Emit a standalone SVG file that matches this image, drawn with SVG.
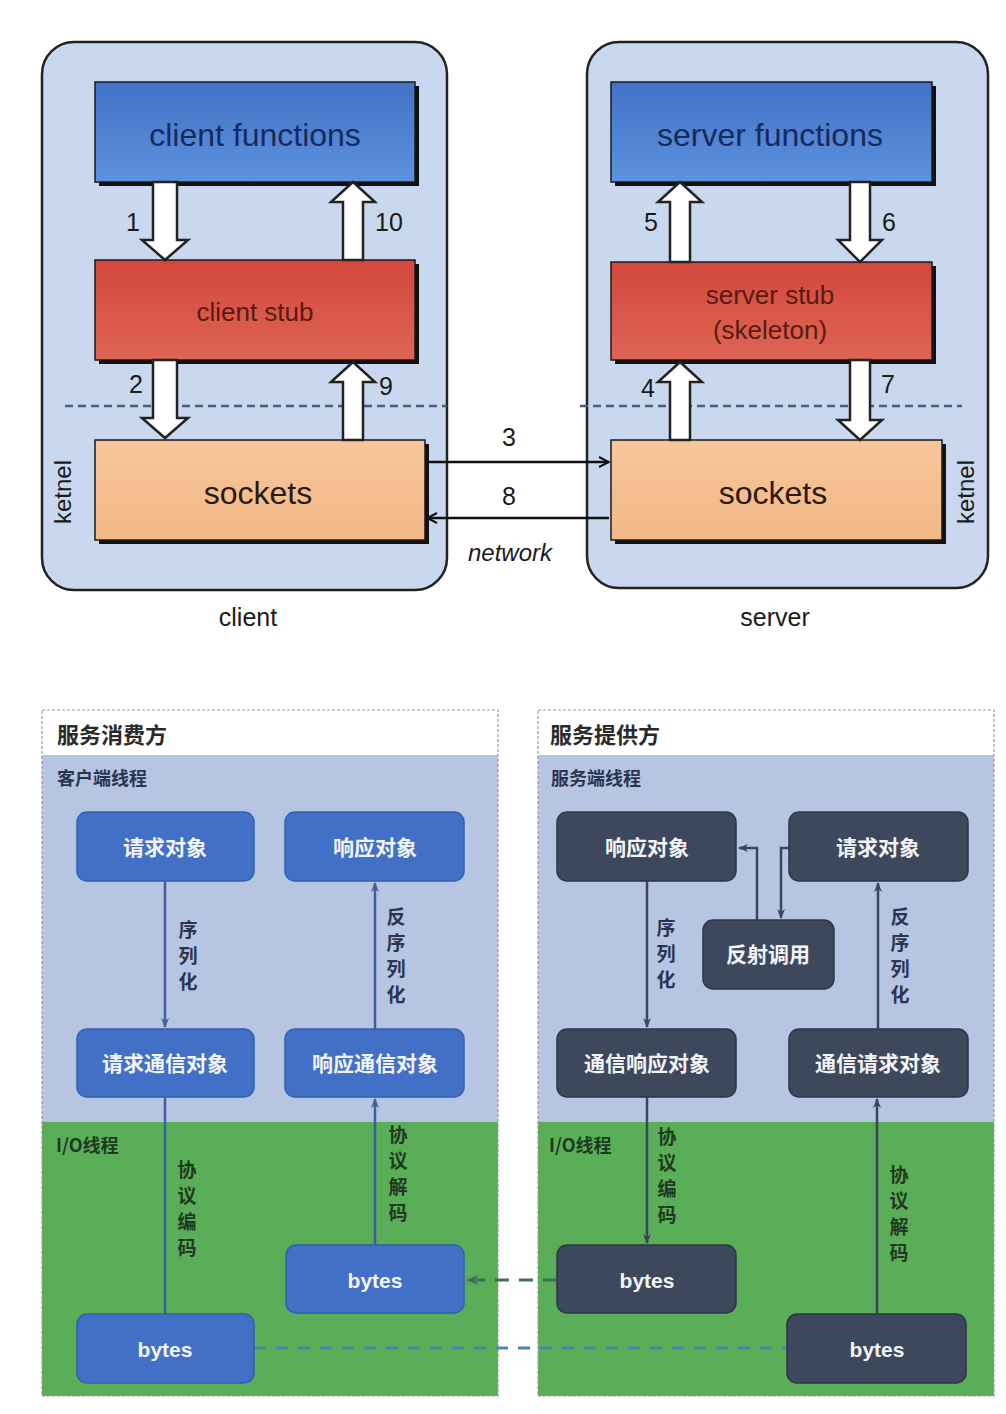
<svg xmlns="http://www.w3.org/2000/svg" width="1006" height="1414" viewBox="0 0 1006 1414">
<defs>
<linearGradient id="gBlue" x1="0" y1="0" x2="0" y2="1"><stop offset="0" stop-color="#4272c6"/><stop offset="1" stop-color="#5d92de"/></linearGradient>
<linearGradient id="gRed" x1="0" y1="0" x2="0" y2="1"><stop offset="0" stop-color="#d2473b"/><stop offset="1" stop-color="#de6555"/></linearGradient>
<linearGradient id="gPeach" x1="0" y1="0" x2="0" y2="1"><stop offset="0" stop-color="#f7c69a"/><stop offset="1" stop-color="#f2b886"/></linearGradient>
<marker id="chev" viewBox="0 0 12 12" refX="11" refY="6" markerWidth="12" markerHeight="12" markerUnits="userSpaceOnUse" orient="auto"><path d="M1,1 L11,6 L1,11" fill="none" stroke="#111" stroke-width="2"/></marker>
<marker id="triB" viewBox="0 0 10 10" refX="9" refY="5" markerWidth="10" markerHeight="10" markerUnits="userSpaceOnUse" orient="auto"><path d="M0,1 L10,5 L0,9 L3,5 Z" fill="#3f5f9f"/></marker>
<marker id="triD" viewBox="0 0 10 10" refX="9" refY="5" markerWidth="10" markerHeight="10" markerUnits="userSpaceOnUse" orient="auto"><path d="M0,1 L10,5 L0,9 L3,5 Z" fill="#3a4660"/></marker>
<marker id="triG" viewBox="0 0 12 12" refX="11" refY="6" markerWidth="12" markerHeight="12" markerUnits="userSpaceOnUse" orient="auto"><path d="M0,1 L12,6 L0,11 L3,6 Z" fill="#3f6f5a"/></marker>
</defs>
<style>
.panel{fill:#c9d8ee;stroke:#222;stroke-width:2.5}
.shadow{fill:#111}
.box{stroke:#1a1a1a;stroke-width:1.5}
.harrow{fill:#fff;stroke:#222;stroke-width:2.5;stroke-linejoin:miter}
.en{font-family:"Liberation Sans",Arial,sans-serif}
.num{font-family:"Liberation Sans",Arial,sans-serif;font-size:25px;fill:#1a1a1a}
.kdash{stroke:#4a5a7a;stroke-width:2.5;stroke-dasharray:8,5;fill:none}
.cn{font-family:"Noto Sans CJK SC",sans-serif}
.hdr{font-size:22px;font-weight:bold;fill:#2a2a2a}
.sub{font-size:18px;font-weight:bold;fill:#2a3450}
.nodeB{fill:#4270c6;stroke:#3360b0;stroke-width:1.5}
.nodeD{fill:#3e485c;stroke:#2e3648;stroke-width:1.5}
.nt{font-size:21px;font-weight:bold;fill:#f2f4f8;text-anchor:middle}
.lblB{font-size:19px;font-weight:bold;fill:#2a3450;text-anchor:middle}
.lblG{font-size:19px;font-weight:bold;fill:#1e3a1e;text-anchor:middle}
.lineB{stroke:#3f5f9f;stroke-width:2.5;fill:none}
.lineD{stroke:#3a4660;stroke-width:2.5;fill:none}
</style>

<!-- ===== Top: RPC diagram ===== -->
<g id="client-panel">
<rect class="panel" x="42" y="42" width="405" height="548" rx="32"/>
<line class="kdash" x1="65" y1="406" x2="447" y2="406"/>
<text class="en" x="248" y="626" font-size="25" fill="#1a1a1a" text-anchor="middle">client</text>
<text class="en" x="0" y="0" font-size="24" fill="#1a1a1a" text-anchor="middle" transform="translate(71,492) rotate(-90)">ketnel</text>
</g>
<g id="server-panel">
<rect class="panel" x="587" y="42" width="401" height="546" rx="32"/>
<line class="kdash" x1="580" y1="406" x2="962" y2="406"/>
<text class="en" x="775" y="626" font-size="25" fill="#1a1a1a" text-anchor="middle">server</text>
<text class="en" x="0" y="0" font-size="24" fill="#1a1a1a" text-anchor="middle" transform="translate(974,492) rotate(-90)">ketnel</text>
</g>

<g id="client-functions">
<rect class="shadow" x="99" y="86" width="320" height="100"/>
<rect class="box" x="95" y="82" width="320" height="100" fill="url(#gBlue)"/>
<text class="en" x="255" y="146" font-size="32" fill="#172a5c" text-anchor="middle">client functions</text>
</g>
<g id="client-stub">
<rect class="shadow" x="99" y="264" width="320" height="100"/>
<rect class="box" x="95" y="260" width="320" height="100" fill="url(#gRed)"/>
<text class="en" x="255" y="321" font-size="26" fill="#5a1a12" text-anchor="middle">client stub</text>
</g>
<g id="client-sockets">
<rect class="shadow" x="99" y="444" width="330" height="100"/>
<rect class="box" x="95" y="440" width="330" height="100" fill="url(#gPeach)"/>
<text class="en" x="258" y="504" font-size="32" fill="#2a1a10" text-anchor="middle">sockets</text>
</g>
<g id="server-functions">
<rect class="shadow" x="615" y="86" width="321" height="100"/>
<rect class="box" x="611" y="82" width="321" height="100" fill="url(#gBlue)"/>
<text class="en" x="770" y="146" font-size="32" fill="#172a5c" text-anchor="middle">server functions</text>
</g>
<g id="server-stub">
<rect class="shadow" x="615" y="266" width="321" height="98"/>
<rect class="box" x="611" y="262" width="321" height="98" fill="url(#gRed)"/>
<text class="en" x="770" y="304" font-size="26" fill="#5a1a12" text-anchor="middle">server stub</text>
<text class="en" x="770" y="339" font-size="26" fill="#5a1a12" text-anchor="middle">(skeleton)</text>
</g>
<g id="server-sockets">
<rect class="shadow" x="615" y="444" width="331" height="100"/>
<rect class="box" x="611" y="440" width="331" height="100" fill="url(#gPeach)"/>
<text class="en" x="773" y="504" font-size="32" fill="#2a1a10" text-anchor="middle">sockets</text>
</g>

<g id="connectors-top">
<path class="harrow" d="M153,182 L177,182 L177,240 L188,240 L165,260 L142,240 L153,240 Z"/>
<path class="harrow" d="M343,260 L363,260 L363,202 L375,202 L353,182 L331,202 L343,202 Z"/>
<path class="harrow" d="M153,360 L177,360 L177,418 L188,418 L165,438 L142,418 L153,418 Z"/>
<path class="harrow" d="M343,440 L363,440 L363,382 L375,382 L353,362 L331,382 L343,382 Z"/>
<path class="harrow" d="M670,262 L690,262 L690,202 L702,202 L680,182 L658,202 L670,202 Z"/>
<path class="harrow" d="M850,182 L870,182 L870,240 L882,240 L860,262 L838,240 L850,240 Z"/>
<path class="harrow" d="M670,440 L690,440 L690,382 L702,382 L680,362 L658,382 L670,382 Z"/>
<path class="harrow" d="M850,360 L870,360 L870,420 L882,420 L860,440 L838,420 L850,420 Z"/>
<text class="num" x="133" y="231" text-anchor="middle">1</text>
<text class="num" x="389" y="231" text-anchor="middle">10</text>
<text class="num" x="136" y="393" text-anchor="middle">2</text>
<text class="num" x="386" y="395" text-anchor="middle">9</text>
<text class="num" x="651" y="231" text-anchor="middle">5</text>
<text class="num" x="889" y="231" text-anchor="middle">6</text>
<text class="num" x="648" y="397" text-anchor="middle">4</text>
<text class="num" x="888" y="393" text-anchor="middle">7</text>
<line x1="427" y1="462" x2="609" y2="462" stroke="#111" stroke-width="2.5" marker-end="url(#chev)"/>
<line x1="609" y1="518" x2="427" y2="518" stroke="#111" stroke-width="2.5" marker-end="url(#chev)"/>
<text class="num" x="509" y="446" text-anchor="middle">3</text>
<text class="num" x="509" y="505" text-anchor="middle">8</text>
<text class="en" x="510" y="561" font-size="24" font-style="italic" fill="#1a1a1a" text-anchor="middle">network</text>
</g>

<!-- ===== Bottom: consumer / provider ===== -->
<g id="consumer-panel">
<rect x="42" y="710" width="456" height="686" fill="#fff"/>
<rect x="42" y="755" width="456" height="367" fill="#b6c5e2"/>
<rect x="42" y="1122" width="456" height="274" fill="#5aae57"/>
<rect x="42" y="710" width="456" height="686" fill="none" stroke="#999" stroke-width="1.2" stroke-dasharray="3,2"/>
<text class="cn hdr" x="57" y="743">服务消费方</text>
<text class="cn sub" x="57" y="785">客户端线程</text>
<text class="cn sub" x="56" y="1152" style="fill:#1e3a1e">I/O线程</text>
</g>
<g id="provider-panel">
<rect x="538" y="710" width="456" height="686" fill="#fff"/>
<rect x="538" y="755" width="456" height="367" fill="#b6c5e2"/>
<rect x="538" y="1122" width="456" height="274" fill="#5aae57"/>
<rect x="538" y="710" width="456" height="686" fill="none" stroke="#999" stroke-width="1.2" stroke-dasharray="3,2"/>
<text class="cn hdr" x="550" y="743">服务提供方</text>
<text class="cn sub" x="551" y="785">服务端线程</text>
<text class="cn sub" x="549" y="1152" style="fill:#1e3a1e">I/O线程</text>
</g>

<g id="connectors-bottom">
<line class="lineB" x1="165" y1="881" x2="165" y2="1027" marker-end="url(#triB)"/>
<line class="lineB" x1="375" y1="1029" x2="375" y2="883" marker-end="url(#triB)"/>
<line class="lineB" x1="165" y1="1097" x2="165" y2="1314"/>
<line class="lineB" x1="375" y1="1245" x2="375" y2="1099" marker-end="url(#triB)"/>
<line class="lineD" x1="647" y1="881" x2="647" y2="1027" marker-end="url(#triD)"/>
<line class="lineD" x1="878" y1="1029" x2="878" y2="883" marker-end="url(#triD)"/>
<line class="lineD" x1="647" y1="1097" x2="647" y2="1243" marker-end="url(#triD)"/>
<line class="lineD" x1="877" y1="1314" x2="877" y2="1099" marker-end="url(#triD)"/>
<polyline class="lineD" points="789,848 781,848 781,918" marker-end="url(#triD)"/>
<polyline class="lineD" points="757,920 757,848 739,848" marker-end="url(#triD)"/>
<line x1="254" y1="1348" x2="787" y2="1348" stroke="#4a86a8" stroke-width="3" stroke-dasharray="12,10"/>
<line x1="557" y1="1280" x2="467" y2="1280" stroke="#3f6f5a" stroke-width="3" stroke-dasharray="14,10" marker-end="url(#triG)"/>
<g class="cn lblB">
<text x="188" y="937">序</text><text x="188" y="963">列</text><text x="188" y="989">化</text>
<text x="396" y="924">反</text><text x="396" y="950">序</text><text x="396" y="976">列</text><text x="396" y="1002">化</text>
<text x="666" y="935">序</text><text x="666" y="961">列</text><text x="666" y="987">化</text>
<text x="900" y="924">反</text><text x="900" y="950">序</text><text x="900" y="976">列</text><text x="900" y="1002">化</text>
</g>
<g class="cn lblG">
<text x="187" y="1177">协</text><text x="187" y="1203">议</text><text x="187" y="1229">编</text><text x="187" y="1255">码</text>
<text x="398" y="1142">协</text><text x="398" y="1168">议</text><text x="398" y="1194">解</text><text x="398" y="1220">码</text>
<text x="667" y="1144">协</text><text x="667" y="1170">议</text><text x="667" y="1196">编</text><text x="667" y="1222">码</text>
<text x="899" y="1182">协</text><text x="899" y="1208">议</text><text x="899" y="1234">解</text><text x="899" y="1260">码</text>
</g>
</g>

<g id="c-req-obj"><rect class="nodeB" x="77" y="812" width="177" height="69" rx="10"/><text class="cn nt" x="165" y="855">请求对象</text></g>
<g id="c-resp-obj"><rect class="nodeB" x="285" y="812" width="179" height="69" rx="10"/><text class="cn nt" x="375" y="855">响应对象</text></g>
<g id="c-req-comm"><rect class="nodeB" x="77" y="1029" width="177" height="68" rx="10"/><text class="cn nt" x="165" y="1071">请求通信对象</text></g>
<g id="c-resp-comm"><rect class="nodeB" x="285" y="1029" width="179" height="68" rx="10"/><text class="cn nt" x="375" y="1071">响应通信对象</text></g>
<g id="c-bytes-out"><rect class="nodeB" x="77" y="1314" width="177" height="69" rx="10"/><text class="en nt" x="165" y="1357" font-size="22">bytes</text></g>
<g id="c-bytes-in"><rect class="nodeB" x="286" y="1245" width="178" height="68" rx="10"/><text class="en nt" x="375" y="1288" font-size="22">bytes</text></g>

<g id="s-resp-obj"><rect class="nodeD" x="557" y="812" width="179" height="69" rx="10"/><text class="cn nt" x="647" y="855">响应对象</text></g>
<g id="s-req-obj"><rect class="nodeD" x="789" y="812" width="179" height="69" rx="10"/><text class="cn nt" x="878" y="855">请求对象</text></g>
<g id="s-reflect"><rect class="nodeD" x="703" y="920" width="131" height="69" rx="10"/><text class="cn nt" x="768" y="962">反射调用</text></g>
<g id="s-resp-comm"><rect class="nodeD" x="557" y="1029" width="179" height="68" rx="10"/><text class="cn nt" x="647" y="1071">通信响应对象</text></g>
<g id="s-req-comm"><rect class="nodeD" x="789" y="1029" width="179" height="68" rx="10"/><text class="cn nt" x="878" y="1071">通信请求对象</text></g>
<g id="s-bytes-out"><rect class="nodeD" x="557" y="1245" width="179" height="68" rx="10"/><text class="en nt" x="647" y="1288" font-size="22">bytes</text></g>
<g id="s-bytes-in"><rect class="nodeD" x="787" y="1314" width="179" height="69" rx="10"/><text class="en nt" x="877" y="1357" font-size="22">bytes</text></g>
</svg>
